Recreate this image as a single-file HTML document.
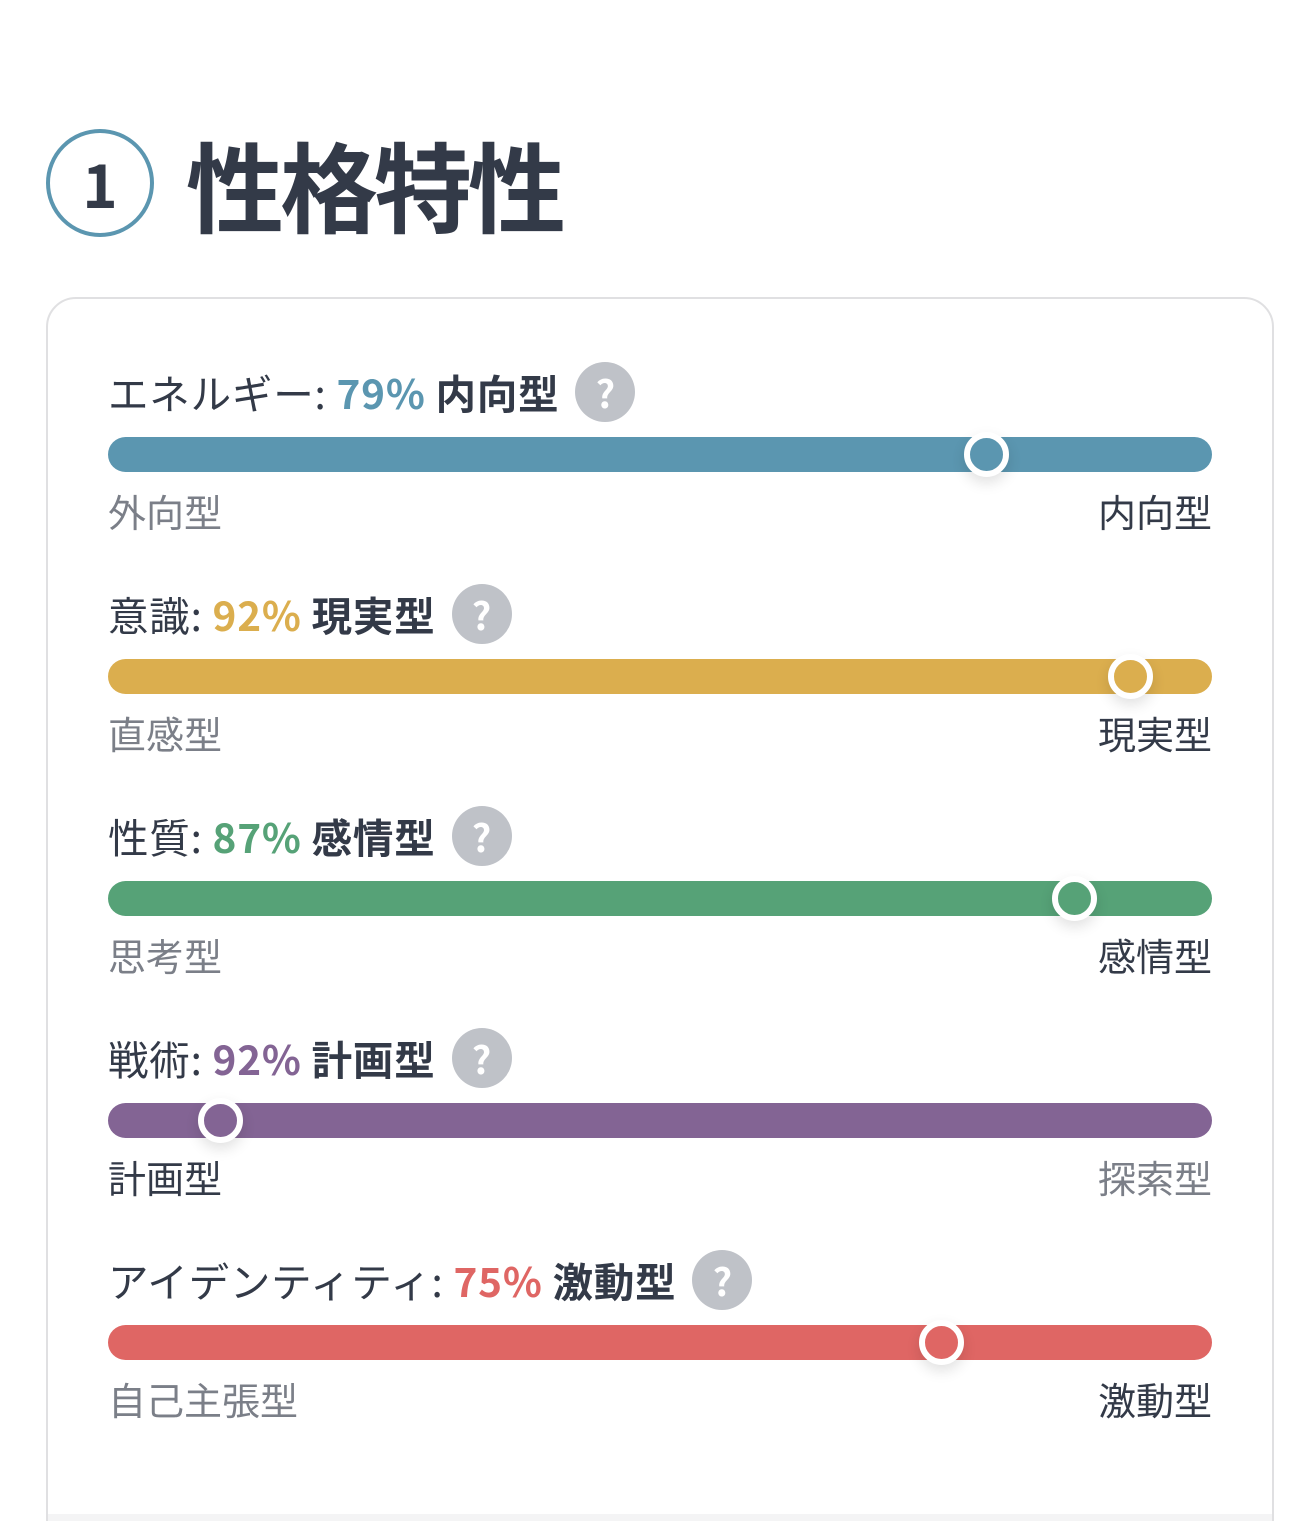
<!DOCTYPE html>
<html style="height:1521px;overflow:hidden"><head><meta charset="utf-8"><style>
body{margin:0;width:1308px;height:1521px;background:#fff;font-family:"Noto Sans CJK JP",sans-serif;overflow:hidden;position:relative;color:#333a48}
.circ{position:absolute;left:46px;top:129px;width:100px;height:100px;border:4px solid #5b96b0;border-radius:50%;box-sizing:content-box;text-align:center;line-height:100px;font-size:60px;font-weight:bold;color:#333a48}
.title{position:absolute;left:186px;top:118px;font-size:98px;font-weight:bold;line-height:130px;color:#333a48;letter-spacing:-4px}
.card{position:absolute;left:46px;top:297px;width:1228px;height:1300px;border:2px solid #e0e0e2;border-radius:30px;box-sizing:border-box}
.strip{position:absolute;left:48px;top:1514px;width:1224px;height:7px;background:#f4f4f5}
.row{position:absolute;left:108px;width:1104px}
.lab{position:absolute;left:0;top:-30px;font-size:40.5px;line-height:60px;white-space:nowrap;display:flex;align-items:center;letter-spacing:0.8px}
.lab b{font-weight:bold}
.q{display:inline-block;width:60px;height:60px;border-radius:50%;background:#bfc2c8;color:#fff;font-weight:bold;font-size:38px;text-align:center;line-height:60px;margin-left:16px;letter-spacing:0}
.bar{position:absolute;left:0;top:45px;width:1104px;height:35px;border-radius:18px}
.knob{position:absolute;top:40px;width:33px;height:33px;border:6px solid #fff;border-radius:50%;box-shadow:0 6px 14px rgba(0,0,0,.12)}
.l,.r{position:absolute;top:94px;font-size:38px;line-height:50px;color:#7b7f88}
.l{left:0}.r{right:0}
.sel{color:#333a48}
</style></head><body>
<div class="circ">1</div>
<div class="title">性格特性</div>
<div class="card"></div>
<div class="strip"></div>

<div class="row" style="top:392px">
<div class="lab">エネルギー:&nbsp;<b style="color:#5b96b0">79%</b>&nbsp;<b>内向型</b><span class="q">?</span></div>
<div class="bar" style="background:#5b96b0"></div>
<div class="knob" style="left:856px;background:#5b96b0"></div>
<div class="l">外向型</div><div class="r sel">内向型</div>
</div>

<div class="row" style="top:614px">
<div class="lab">意識:&nbsp;<b style="color:#dbae4e">92%</b>&nbsp;<b>現実型</b><span class="q">?</span></div>
<div class="bar" style="background:#dbae4e"></div>
<div class="knob" style="left:1000px;background:#dbae4e"></div>
<div class="l">直感型</div><div class="r sel">現実型</div>
</div>

<div class="row" style="top:836px">
<div class="lab">性質:&nbsp;<b style="color:#56a277">87%</b>&nbsp;<b>感情型</b><span class="q">?</span></div>
<div class="bar" style="background:#56a277"></div>
<div class="knob" style="left:944px;background:#56a277"></div>
<div class="l">思考型</div><div class="r sel">感情型</div>
</div>

<div class="row" style="top:1058px">
<div class="lab">戦術:&nbsp;<b style="color:#836494">92%</b>&nbsp;<b>計画型</b><span class="q">?</span></div>
<div class="bar" style="background:#836494"></div>
<div class="knob" style="left:90px;background:#836494"></div>
<div class="l sel">計画型</div><div class="r">探索型</div>
</div>

<div class="row" style="top:1280px">
<div class="lab">アイデンティティ:&nbsp;<b style="color:#df6664">75%</b>&nbsp;<b>激動型</b><span class="q">?</span></div>
<div class="bar" style="background:#df6664"></div>
<div class="knob" style="left:811px;background:#df6664"></div>
<div class="l">自己主張型</div><div class="r sel">激動型</div>
</div>
</body></html>
